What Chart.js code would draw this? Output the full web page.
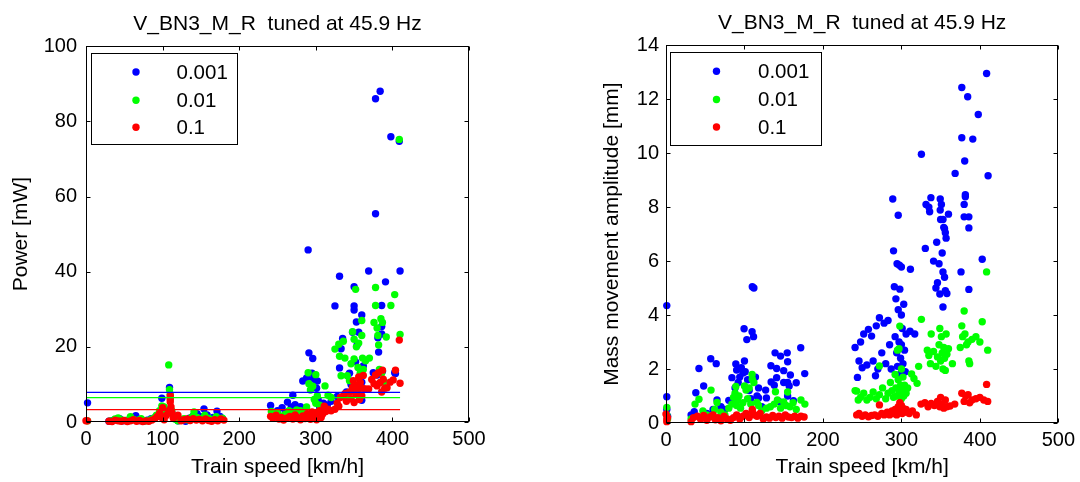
<!DOCTYPE html>
<html>
<head>
<meta charset="utf-8">
<title>V_BN3_M_R tuned at 45.9 Hz</title>
<script src="https://cdn.jsdelivr.net/npm/chart.js@4.4.1/dist/chart.umd.min.js"></script>
<style>
    html, body { margin: 0; padding: 0; background: #fff; }
    .panel { position: absolute; top: 0; width: 540px; height: 482px; }
    #leftPanel { left: 0; }
    #rightPanel { left: 540px; }
</style>
</head>
<body>
<div class="panel" id="leftPanel"><canvas id="powerChart" width="540" height="482"></canvas></div>
<div class="panel" id="rightPanel"><canvas id="amplitudeChart" width="540" height="482"></canvas></div>
<script>

const chartTitle = "V_BN3_M_R  tuned at 45.9 Hz";

const seriesLabels = ["0.001", "0.01", "0.1"];

const seriesColors = ["#0000ff", "#00ff00", "#ff0000"];

const speedTicks = [0, 100, 200, 300, 400, 500];

const powerTicks = [0, 20, 40, 60, 80, 100];

const amplitudeTicks = [0, 2, 4, 6, 8, 10, 12, 14];

// horizontal reference lines on the power plot
const thresholdSpeeds = [0, 410];

const thresholdPower = [7.9, 6.5, 3.3];

// [train speed km/h, power mW]
const powerLow = [
    [2,5.1],[30,0.2],[35,0.4],[40,0.6],[44,0.9],[48,0.3],[55,0.5],[60,0.8],[65,1.7],[70,0.4],
    [75,0.2],[80,0.5],[85,0.9],[90,1.2],[95,1.5],[99,6.3],[103,1.8],[106,2.4],[109,9.2],[109,3.3],
    [112,2.5],[115,1.0],[120,0.3],[125,0.6],[130,0.2],[135,1.0],[140,1.6],[145,2.2],[150,1.4],[154,3.5],
    [158,1.9],[162,0.8],[166,1.2],[171,2.9],[175,1.5],[178,0.9],
    [241,4.4],[245,2.5],[250,3.0],[256,3.8],[260,2.2],[263,5.3],[268,4.0],[270,7.1],[273,4.6],[276,3.5],
    [280,4.1],[283,10.9],[285,3.0],[288,11.7],[290,45.8],[291,18.4],[293,2.0],[295,13.0],[296,16.9],[297,11.5],
    [299,12.5],[300,11.0],[301,9.0],[302,10.9],[303,6.0],[305,4.0],[308,2.5],[310,5.0],[315,4.5],[320,5.5],
    [325,30.9],[328,6.8],[331,38.8],[331,14.4],[333,19.5],[335,22.2],[340,8.0],[344,13.0],[346,10.0],[348,23.9],
    [350,30.9],[350,29.8],[350,36.0],[352,16.0],[353,26.6],[354,20.5],[355,9.0],[356,23.9],[358,11.5],[360,28.5],
    [360,10.6],[360,5.8],[362,14.9],[369,40.2],[375,13.1],[378,86.0],[378,55.4],[380,12.5],[382,18.6],[381,22.4],
    [384,88.0],[386,31.0],[386,25.4],[386,23.4],[387,13.5],[391,37.3],[398,75.9],[403,13.1],[404,12.9],[409,74.7],
    [410,40.2]
];

const powerMid = [
    [2,0.3],[32,0.3],[38,0.8],[42,1.1],[46,0.6],[52,0.4],[58,1.4],[62,0.7],[68,0.5],[72,0.9],
    [78,0.3],[84,0.6],[88,1.0],[92,1.8],[96,3.0],[99,4.3],[102,4.0],[105,2.2],[108,15.2],[109,8.6],
    [110,7.4],[110,6.5],[112,3.0],[116,0.8],[120,0.3],[124,0.5],[128,0.9],[132,0.6],[138,1.3],[141,2.7],
    [145,1.2],[150,0.9],[155,1.8],[160,1.0],[165,0.6],[170,1.4],[174,0.9],[178,1.0],
    [242,2.8],[246,1.8],[250,2.4],[255,1.5],[260,2.0],[265,3.0],[270,2.6],[275,3.2],[280,3.0],[284,2.5],
    [288,4.0],[290,13.1],[291,10.2],[293,8.5],[296,9.5],[298,6.0],[300,12.6],[300,5.0],[302,7.0],[305,4.5],
    [308,3.5],[312,9.6],[316,7.1],[320,6.5],[325,19.4],[330,20.7],[331,17.5],[333,12.3],[336,21.5],[338,17.0],
    [340,7.0],[341,12.3],[344,11.0],[346,15.5],[348,24.0],[350,16.8],[350,22.0],[352,35.3],[353,20.0],[355,14.5],
    [356,21.0],[358,13.0],[360,27.0],[360,23.0],[361,17.0],[362,14.0],[365,16.3],[370,17.0],[376,26.5],[378,31.0],
    [378,35.8],[380,25.0],[381,23.0],[382,20.5],[383,14.0],[385,27.5],[386,13.0],[387,26.5],[389,10.8],[392,22.6],
    [398,31.0],[403,33.9],[409,75.2],[410,23.3]
];

const powerHigh = [
    [0,0.35],[2,0.3],[30,0.2],[34,0.1],[38,0.5],[42,0.3],[46,0.2],[50,0.4],[54,0.1],[58,0.3],
    [62,0.6],[66,0.2],[70,0.4],[74,0.1],[78,0.3],[82,0.2],[86,0.5],[90,0.9],[93,1.5],[96,2.3],
    [99,1.2],[100,3.8],[102,0.6],[105,1.8],[108,3.0],[110,7.0],[110,6.0],[110,5.3],[111,4.0],[112,2.5],
    [114,1.0],[117,1.5],[120,1.8],[124,0.3],[128,0.6],[132,0.8],[136,0.4],[140,0.9],[144,0.5],[148,0.7],
    [152,0.3],[156,0.8],[160,0.4],[164,0.2],[168,0.6],[172,0.3],[176,0.8],[180,0.5],
    [241,1.5],[244,1.0],[248,1.8],[252,0.8],[255,1.2],[258,0.5],[262,1.0],[266,1.5],[270,0.8],[273,1.9],
    [276,1.2],[280,0.6],[283,1.6],[286,0.9],[289,2.2],[291,1.3],[293,0.7],[295,2.7],[297,1.8],[299,1.0],
    [300,2.4],[301,0.6],[303,1.5],[305,3.0],[307,1.2],[309,2.1],[311,4.2],[313,2.8],[316,3.4],[320,3.0],
    [325,3.4],[328,5.0],[330,4.2],[332,6.5],[335,6.8],[338,7.5],[340,5.5],[344,8.0],[346,6.2],[348,9.2],
    [349,11.0],[350,5.2],[352,7.5],[353,9.8],[355,8.4],[356,12.0],[357,6.0],[358,10.5],[360,7.0],[361,9.0],
    [362,12.4],[365,8.8],[369,8.8],[373,11.3],[376,10.2],[378,12.5],[380,9.6],[382,13.1],[384,10.5],[386,8.0],
    [387,13.8],[388,11.4],[390,9.0],[393,9.1],[397,10.6],[401,11.2],[404,13.8],[409,21.8],[410,10.3]
];

// [train speed km/h, mass movement amplitude mm]
const amplitudeLow = [
    [1,4.35],[1,0.97],[1,0.5],[2,0.25],[32,0.3],[36,0.42],[38,1.12],[42,2.02],[48,1.37],[52,0.35],
    [57,2.38],[60,0.5],[64,2.2],[65,0.85],[70,0.6],[75,0.5],[80,0.84],[84,1.68],[86,0.73],[88,1.3],
    [89,2.19],[90,1.96],[92,1.5],[94,1.7],[96,2.05],[98,1.85],[99.5,3.49],[100,2.3],[101,1.9],[103,3.09],
    [104,1.6],[106,1.2],[108,0.9],[109.7,3.38],[110,5.05],[111.6,3.2],[112,5.0],[114,1.7],[116,1.0],[118,1.3],
    [118,0.93],[122,0.6],[127,1.22],[128,0.93],[133.7,2.12],[134,1.52],[138,1.4],[139,2.6],[141,2.02],[141,1.68],
    [144,0.8],[146,2.48],[150,1.94],[150,1.5],[154.5,2.6],[155,2.27],[155,1.5],[155,1.0],[157,1.37],[158.5,1.78],
    [162.4,0.83],[166,1.49],[171.7,2.79],[176.8,1.83],
    [241,2.8],[244,1.69],[246,2.3],[248,3.0],[250,2.05],[252,3.3],[256,2.15],[258,3.47],[262,3.22],[264,2.3],
    [267,1.75],[268,3.6],[270,2.0],[272,3.9],[275,2.6],[278,3.7],[280,2.2],[283,3.8],[285,2.9],[287,2.0],
    [289,8.3],[290,6.38],[291,5.05],[292,3.2],[293,4.6],[294,2.6],[294.5,5.9],[295,2.1],[296,7.7],[296,4.2],
    [297,3.0],[297.5,5.85],[298,4.96],[298,1.8],[299,2.4],[300,5.78],[300,4.0],[300,2.9],[301,3.5],[302,2.2],
    [303,4.4],[304,2.7],[305,1.9],[306,3.3],[311,3.4],[311.5,5.7],[317,3.3],[325.5,9.96],[330.5,6.47],[331.4,8.1],
    [335,8.0],[336,7.83],[337.6,8.35],[341,6.0],[344,5.0],[345,6.7],[346,5.2],[348,5.9],[349,4.78],[349.5,8.3],
    [349.5,7.89],[350,7.54],[351,8.1],[352,6.3],[353,5.6],[353,4.3],[353,7.54],[354,7.25],[355,7.2],[355,5.4],
    [356,7.05],[356,4.9],[357,6.85],[358,4.8],[360,7.74],[368.5,9.25],[376,5.6],[377,12.43],[377,10.57],[380,8.1],
    [380.7,9.71],[381.5,8.46],[381.5,8.38],[380,7.64],[384.5,12.09],[386,7.64],[386,7.23],[386,4.95],[391,10.52],[398,11.43],
    [403,6.07],[408.6,12.95],[410.5,9.16]
];

const amplitudeMid = [
    [1,0.58],[1,0.3],[2,0.15],[32,0.15],[37,0.7],[42,0.88],[47,0.45],[52,0.3],[57.4,1.22],[62,0.5],
    [65,0.76],[70,0.4],[75,0.3],[80,0.55],[84,0.7],[86,0.95],[88,1.1],[89,1.35],[90,0.65],[91,0.85],
    [93,1.0],[95,0.55],[98,0.75],[100,1.37],[102,1.22],[104,0.9],[106,1.3],[108,0.7],[109.7,1.8],[110,1.62],
    [112,1.5],[115.7,0.76],[118,0.65],[122,0.45],[128,0.55],[133,0.6],[138,0.7],[139.5,1.16],[142,0.85],[146,0.55],
    [150,0.78],[153,0.65],[155,1.15],[158,0.6],[162,0.75],[166,0.5],[172,0.85],[177,0.7],
    [241,1.2],[243,1.18],[245,0.85],[248,0.95],[252,1.1],[256,0.85],[260,0.95],[264,1.15],[268,0.9],[272,1.05],
    [272,2.11],[276,1.3],[280,0.9],[283,1.1],[286,1.5],[288,1.2],[290,0.95],[292,1.8],[293,1.3],[294,1.0],
    [295,2.7],[296,1.6],[297,1.15],[297,2.75],[298,3.59],[299,1.4],[300,2.0],[300,0.9],[301,1.2],[302,1.7],
    [303,1.0],[304,1.4],[306,1.1],[308,1.3],[313,1.82],[316,1.65],[320,1.47],[322,2.1],[325.5,3.84],[333,2.7],
    [335,2.5],[337,2.2],[338,3.3],[341,2.65],[344,2.1],[346,2.45],[348,2.9],[349,3.5],[350,2.3],[351,3.2],
    [352,2.6],[353,2.0],[354,2.8],[355,2.4],[356,1.95],[357,3.3],[358,2.55],[360,2.75],[365,2.2],[375,2.8],
    [377,3.6],[378,3.2],[380,4.15],[381,3.3],[383,2.9],[385,3.0],[386,2.3],[387,2.2],[390,3.1],[395,3.2],
    [400,3.0],[403,3.75],[408.6,5.6],[410,2.7]
];

const amplitudeHigh = [
    [0,0.33],[1,0.15],[1,0.05],[2,0.2],[32,0.05],[35,0.2],[40,0.25],[44,0.15],[48,0.28],[52,0.1],
    [56,0.22],[60,0.3],[63,0.12],[66,0.2],[70,0.08],[74,0.25],[78,0.15],[82,0.1],[86,0.2],[90,0.3],
    [94,0.15],[98,0.25],[102,0.35],[106,0.2],[110,0.5],[110,0.42],[113,0.3],[116,0.25],[120,0.35],[124,0.15],
    [128,0.22],[132,0.18],[136,0.28],[140,0.2],[144,0.25],[148,0.18],[152,0.3],[156,0.22],[160,0.2],[164,0.25],
    [168,0.18],[172,0.25],[176,0.22],
    [243,0.3],[246,0.35],[250,0.25],[254,0.3],[258,0.23],[262,0.28],[266,0.3],[270,0.25],[272,0.67],[275,0.35],
    [278,0.3],[282,0.4],[285,0.3],[288,0.45],[290,0.35],[292,0.5],[294,0.3],[296,0.6],[298,0.75],[299,0.45],
    [300,0.65],[301,0.35],[302,0.55],[304,0.4],[306,0.5],[310,0.35],[314,0.45],[319,0.3],[325,0.7],[330,0.75],
    [334,0.6],[338,0.72],[342,0.65],[346,0.8],[349,0.6],[350,0.95],[352,0.7],[354,0.55],[356,0.85],[358,0.6],
    [362,0.63],[368,0.7],[377,1.1],[380,0.8],[382,1.0],[385,1.05],[387,0.75],[390,0.85],[395,0.9],[400,0.95],
    [405,0.85],[408.6,1.43],[410,0.8]
];

Chart.defaults.font.family = "'Liberation Sans', Arial, sans-serif";
Chart.defaults.font.size = 20;
Chart.defaults.color = "#000";

const markerRadius = 3.7;

function toPoints(pairs) {
    return pairs.map(([x, y]) => ({ x: x, y: y }));
}

function scatterSet(pairs, i) {
    return {
        type: "scatter",
        label: seriesLabels[i],
        data: toPoints(pairs),
        pointRadius: markerRadius,
        pointHoverRadius: markerRadius,
        pointBorderWidth: 0,
        pointBackgroundColor: seriesColors[i],
        borderColor: seriesColors[i],
        order: 3 - i,
        clip: false
    };
}

function thresholdSet(value, i) {
    return {
        type: "line",
        data: thresholdSpeeds.map(s => ({ x: s, y: value })),
        borderColor: seriesColors[i],
        borderWidth: 1.2,
        pointRadius: 0,
        order: 0
    };
}

// matlab style box, inward ticks and framed legend
const matlabFrame = {
    id: "matlabFrame",
    afterDraw(chart, args, opts) {
        const { ctx, chartArea: a, scales } = chart;
        const l = Math.round(a.left) + 0.5;
        const r = Math.round(a.right) - 0.5;
        const t = Math.round(a.top) + 0.5;
        const b = Math.round(a.bottom) - 0.5;
        ctx.save();
        ctx.strokeStyle = "#000";
        ctx.lineWidth = 1;
        ctx.strokeRect(l, t, r - l, b - t);
        ctx.beginPath();
        scales.x.ticks.forEach(tick => {
            const px = Math.round(scales.x.getPixelForValue(tick.value)) + 0.5;
            ctx.moveTo(px, b); ctx.lineTo(px, b - 4);
            ctx.moveTo(px, t); ctx.lineTo(px, t + 4);
        });
        scales.y.ticks.forEach(tick => {
            const py = Math.round(scales.y.getPixelForValue(tick.value)) + 0.5;
            ctx.moveTo(l, py); ctx.lineTo(l + 4, py);
            ctx.moveTo(r, py); ctx.lineTo(r - 4, py);
        });
        ctx.stroke();

        const box = opts.box;
        const bx = Math.round(a.left + box.x) + 0.5;
        const by = Math.round(a.top + box.y) + 0.5;
        ctx.fillStyle = "#fff";
        ctx.fillRect(bx, by, box.w, box.h);
        ctx.strokeRect(bx, by, box.w, box.h);
        ctx.font = "20.5px 'Liberation Sans', Arial, sans-serif";
        ctx.textBaseline = "middle";
        ctx.textAlign = "left";
        seriesLabels.forEach((label, i) => {
            const y = by + box.rows[i];
            ctx.fillStyle = seriesColors[i];
            ctx.beginPath();
            ctx.arc(bx + box.dot, y, markerRadius, 0, Math.PI * 2);
            ctx.fill();
            ctx.fillStyle = "#000";
            ctx.fillText(label, bx + box.text, y + 1);
        });
        ctx.restore();
    }
};

function makeChart(id, cfg) {
    return new Chart(document.getElementById(id), {
        data: { datasets: cfg.datasets },
        options: {
            responsive: false,
            animation: false,
            events: [],
            layout: { padding: cfg.padding },
            plugins: {
                legend: { display: false },
                tooltip: { enabled: false },
                title: {
                    display: true,
                    text: chartTitle,
                    fullSize: false,
                    font: { size: 21, weight: "normal" },
                    color: "#000",
                    padding: cfg.titlePadding
                },
                matlabFrame: { box: cfg.legendBox }
            },
            scales: {
                x: {
                    type: "linear",
                    min: 0,
                    max: 500,
                    afterBuildTicks: s => { s.ticks = speedTicks.map(v => ({ value: v })); },
                    afterFit: s => { s.height = cfg.xHeight; },
                    grid: { display: false, drawTicks: false },
                    border: { display: false },
                    ticks: { padding: 5, color: "#000", maxRotation: 0 },
                    title: {
                        display: true,
                        text: "Train speed [km/h]",
                        color: "#000",
                        font: { size: 21 },
                        padding: { top: 0, bottom: 2 }
                    }
                },
                y: {
                    type: "linear",
                    min: 0,
                    max: cfg.yTicks[cfg.yTicks.length - 1],
                    afterBuildTicks: s => { s.ticks = cfg.yTicks.map(v => ({ value: v })); },
                    afterFit: s => { s.width = cfg.yWidth; },
                    grid: { display: false, drawTicks: false },
                    border: { display: false },
                    ticks: { padding: cfg.yTickPad, color: "#000" },
                    title: {
                        display: true,
                        text: cfg.yTitle,
                        color: "#000",
                        font: { size: 21 },
                        padding: { top: cfg.yTitlePad, bottom: 0 }
                    }
                }
            }
        },
        plugins: [matlabFrame]
    });
}

document.addEventListener("DOMContentLoaded", () => {

    makeChart("powerChart", {
        datasets: [
            scatterSet(powerLow, 0),
            scatterSet(powerMid, 1),
            scatterSet(powerHigh, 2),
            ...thresholdPower.map((v, i) => thresholdSet(v, i))
        ],
        padding: { top: 0, left: 0, right: 71, bottom: 0 },
        titlePadding: { top: 12, bottom: 9 },
        xHeight: 60,
        yWidth: 86,
        yTicks: powerTicks,
        yTickPad: 9,
        yTitle: "Power [mW]",
        yTitlePad: 9,
        legendBox: { x: 5, y: 7, w: 146, h: 91, dot: 44.5, text: 85, rows: [18.5, 46.8, 73.8] }
    });

    makeChart("amplitudeChart", {
        datasets: [
            scatterSet(amplitudeLow, 0),
            scatterSet(amplitudeMid, 1),
            scatterSet(amplitudeHigh, 2)
        ],
        padding: { top: 0, left: 0, right: 20, bottom: 0 },
        titlePadding: { top: 11, bottom: 9 },
        xHeight: 59,
        yWidth: 126,
        yTicks: amplitudeTicks,
        yTickPad: 7,
        yTitle: "Mass movement amplitude [mm]",
        yTitlePad: 60,
        legendBox: { x: 4, y: 7, w: 151, h: 93, dot: 46, text: 87.5, rows: [18.7, 47, 74.5] }
    });

});
</script>
</body>
</html>
